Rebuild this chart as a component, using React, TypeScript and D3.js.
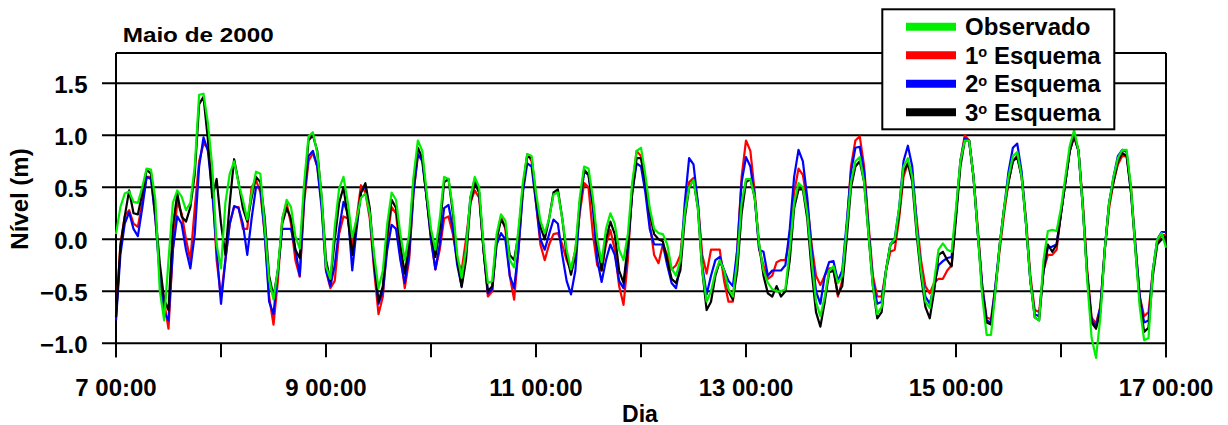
import React from 'react';
import * as d3 from 'd3';

// Hourly samples starting at day 7 00:00 (May 2000)
const START_DAY = 7;
const SAMPLES_PER_DAY = 24;
const MAJOR_DAYS = [7, 9, 11, 13, 15, 17];
const ALL_DAYS = [7, 8, 9, 10, 11, 12, 13, 14, 15, 16, 17];
const Y_TICKS = [-1.0, -0.5, 0.0, 0.5, 1.0, 1.5];
const SERIES_LABELS = ['Observado', '1', '2', '3'];

const OBSERVADO = [
  0.05, 0.31, 0.44, 0.46, 0.36, 0.35, 0.50, 0.68, 0.67, 0.38, -0.49, -0.78,
  -0.20, 0.35, 0.47, 0.41, 0.28, 0.35, 0.70, 1.39, 1.40, 1.12, 0.70, -0.05,
  -0.28, 0.35, 0.63, 0.75, 0.54, 0.38, 0.19, 0.44, 0.65, 0.63, 0.12, -0.39,
  -0.58, -0.29, 0.19, 0.38, 0.31, 0.03, -0.09, 0.54, 0.99, 1.03, 0.83, 0.41,
  -0.26, -0.38, 0.12, 0.49, 0.60, 0.35, 0.02, 0.20, 0.40, 0.44, 0.25, -0.15,
  -0.47, -0.30, 0.15, 0.45, 0.38, 0.05, -0.20, 0.05, 0.60, 0.95, 0.85, 0.45,
  0.10, -0.10, 0.20, 0.60, 0.58, 0.30, -0.15, -0.37, -0.10, 0.40, 0.60, 0.50,
  -0.05, -0.42, -0.40, 0.05, 0.24, 0.18, -0.20, -0.27, 0.10, 0.55, 0.82, 0.80,
  0.45, 0.18, 0.06, 0.20, 0.43, 0.45, 0.20, -0.10, -0.29, -0.10, 0.40, 0.70,
  0.68, 0.40, 0.00, -0.22, 0.10, 0.25, 0.15, -0.10, -0.20, 0.05, 0.55, 0.85,
  0.88, 0.62, 0.30, 0.10, 0.06, 0.05, -0.05, -0.28, -0.35, -0.20, 0.25, 0.50,
  0.57, 0.30, -0.30, -0.60, -0.50, -0.32, -0.20, -0.30, -0.48, -0.55, -0.20, 0.35,
  0.58, 0.58, 0.40, -0.05, -0.30, -0.42, -0.48, -0.50, -0.50, -0.48, -0.10, 0.35,
  0.54, 0.50, 0.25, -0.20, -0.60, -0.74, -0.55, -0.30, -0.26, -0.42, -0.35, 0.10,
  0.55, 0.75, 0.79, 0.55, 0.05, -0.45, -0.72, -0.65, -0.30, -0.05, 0.00, 0.30,
  0.70, 0.78, 0.60, 0.10, -0.30, -0.60, -0.66, -0.40, -0.10, -0.04, -0.10, -0.12,
  0.30, 0.75, 0.95, 0.95, 0.60, 0.05, -0.55, -0.92, -0.92, -0.50, -0.05, 0.30,
  0.60, 0.80, 0.84, 0.60, 0.15, -0.40, -0.75, -0.78, -0.20, 0.08, 0.09, 0.08,
  0.30, 0.60, 0.90, 1.05, 0.85, 0.30, -0.40, -0.95, -1.14, -0.75, -0.10, 0.35,
  0.60, 0.78, 0.86, 0.86, 0.50, -0.10, -0.65, -0.97, -0.95, -0.30, 0.00, 0.06,
  -0.08,
];

const ESQUEMA_1 = [
  -0.75, -0.05, 0.22, 0.28, 0.15, 0.12, 0.35, 0.60, 0.60, 0.20, -0.30, -0.60,
  -0.86, -0.10, 0.36, 0.25, 0.00, -0.20, 0.30, 0.75, 0.92, 0.88, 0.55, -0.20,
  -0.55, -0.20, 0.15, 0.31, 0.31, 0.10, 0.10, 0.50, 0.57, 0.45, 0.05, -0.55,
  -0.82, -0.40, 0.20, 0.35, 0.15, -0.20, -0.36, 0.35, 0.75, 0.83, 0.70, 0.35,
  -0.30, -0.47, -0.40, 0.05, 0.22, 0.20, -0.07, 0.20, 0.52, 0.45, 0.20, -0.30,
  -0.72, -0.55, 0.00, 0.31, 0.25, -0.15, -0.47, -0.20, 0.45, 0.80, 0.80, 0.40,
  0.00, -0.29, -0.10, 0.20, 0.22, 0.05, -0.20, -0.30, 0.00, 0.35, 0.47, 0.40,
  -0.10, -0.55, -0.50, 0.00, 0.22, 0.10, -0.35, -0.58, -0.10, 0.50, 0.82, 0.75,
  0.35, -0.05, -0.20, -0.05, 0.05, 0.06, -0.05, -0.20, -0.30, -0.10, 0.25, 0.54,
  0.50, 0.05, -0.25, -0.30, -0.05, 0.09, -0.10, -0.45, -0.63, -0.20, 0.50, 0.85,
  0.80, 0.50, 0.15, -0.15, -0.23, -0.05, -0.15, -0.29, -0.25, -0.15, 0.25, 0.55,
  0.59, 0.35, -0.15, -0.33, -0.10, -0.10, -0.10, -0.40, -0.60, -0.60, -0.10, 0.60,
  0.95, 0.85, 0.45, -0.10, -0.25, -0.38, -0.35, -0.22, -0.20, -0.20, 0.00, 0.45,
  0.68, 0.62, 0.35, -0.05, -0.35, -0.44, -0.35, -0.28, -0.28, -0.55, -0.40, 0.10,
  0.70, 0.95, 0.99, 0.70, 0.15, -0.35, -0.55, -0.55, -0.30, -0.12, -0.10, 0.20,
  0.60, 0.73, 0.60, 0.20, -0.20, -0.45, -0.52, -0.42, -0.38, -0.38, -0.30, -0.25,
  0.25, 0.75, 1.00, 0.95, 0.60, 0.10, -0.45, -0.75, -0.77, -0.45, -0.10, 0.25,
  0.55, 0.75, 0.81, 0.60, 0.20, -0.35, -0.68, -0.70, -0.30, -0.15, -0.15, -0.10,
  0.25, 0.55, 0.85, 0.98, 0.85, 0.35, -0.30, -0.75, -0.81, -0.65, -0.10, 0.30,
  0.55, 0.72, 0.80, 0.80, 0.50, -0.05, -0.55, -0.74, -0.70, -0.30, -0.03, 0.04,
  0.04,
];

const ESQUEMA_2 = [
  -0.78, -0.15, 0.15, 0.26, 0.10, 0.03, 0.30, 0.60, 0.58, 0.20, -0.35, -0.70,
  -0.78, -0.10, 0.22, 0.15, -0.10, -0.28, 0.05, 0.70, 0.98, 0.85, 0.45, -0.10,
  -0.62, -0.20, 0.15, 0.32, 0.30, 0.15, -0.15, 0.20, 0.50, 0.50, 0.05, -0.60,
  -0.72, -0.30, 0.10, 0.10, 0.10, -0.10, -0.35, 0.40, 0.80, 0.85, 0.70, 0.30,
  -0.30, -0.45, -0.25, 0.10, 0.36, 0.25, -0.30, 0.10, 0.45, 0.52, 0.25, -0.25,
  -0.62, -0.50, -0.10, 0.14, 0.10, -0.20, -0.42, -0.15, 0.45, 0.82, 0.75, 0.40,
  0.00, -0.29, -0.05, 0.30, 0.33, 0.10, -0.25, -0.45, -0.10, 0.40, 0.58, 0.45,
  -0.10, -0.52, -0.48, -0.05, 0.06, 0.00, -0.35, -0.47, -0.10, 0.45, 0.73, 0.70,
  0.35, 0.00, -0.10, 0.05, 0.19, 0.15, -0.15, -0.40, -0.53, -0.30, 0.30, 0.65,
  0.62, 0.30, -0.20, -0.41, -0.20, -0.05, -0.15, -0.40, -0.47, -0.10, 0.45, 0.73,
  0.70, 0.45, 0.10, -0.05, -0.05, -0.05, -0.25, -0.42, -0.47, -0.25, 0.35, 0.78,
  0.72, 0.35, -0.25, -0.53, -0.35, -0.20, -0.17, -0.30, -0.40, -0.45, -0.10, 0.55,
  0.79, 0.70, 0.40, -0.10, -0.12, -0.35, -0.30, -0.30, -0.30, -0.25, 0.10, 0.60,
  0.86, 0.75, 0.40, -0.10, -0.50, -0.62, -0.35, -0.22, -0.21, -0.40, -0.30, 0.15,
  0.65, 0.88, 0.89, 0.65, 0.10, -0.40, -0.62, -0.60, -0.30, -0.05, 0.01, 0.30,
  0.75, 0.90, 0.70, 0.15, -0.30, -0.55, -0.62, -0.45, -0.25, -0.21, -0.18, -0.17,
  0.25, 0.75, 0.97, 0.95, 0.60, 0.05, -0.45, -0.78, -0.80, -0.45, -0.05, 0.30,
  0.65, 0.88, 0.92, 0.65, 0.15, -0.40, -0.72, -0.74, -0.30, -0.08, -0.07, -0.05,
  0.25, 0.55, 0.85, 1.00, 0.85, 0.30, -0.35, -0.78, -0.84, -0.65, -0.10, 0.35,
  0.60, 0.80, 0.86, 0.84, 0.45, -0.05, -0.55, -0.80, -0.78, -0.30, 0.00, 0.07,
  0.07,
];

const ESQUEMA_3 = [
  -0.75, -0.07, 0.22, 0.47, 0.25, 0.24, 0.44, 0.67, 0.63, 0.25, -0.23, -0.58,
  -0.68, 0.12, 0.44, 0.22, 0.17, 0.31, 0.63, 1.30, 1.37, 0.96, 0.40, 0.58,
  0.15, -0.15, 0.35, 0.77, 0.55, 0.30, 0.17, 0.40, 0.60, 0.55, 0.20, -0.35,
  -0.55, -0.30, 0.15, 0.30, 0.20, -0.10, -0.18, 0.45, 0.95, 1.00, 0.85, 0.40,
  -0.20, -0.40, 0.00, 0.35, 0.50, 0.20, -0.15, 0.15, 0.45, 0.54, 0.30, -0.20,
  -0.60, -0.45, 0.05, 0.38, 0.30, -0.05, -0.33, -0.05, 0.55, 0.88, 0.78, 0.40,
  0.05, -0.17, 0.10, 0.55, 0.58, 0.25, -0.20, -0.46, -0.20, 0.35, 0.54, 0.45,
  -0.10, -0.50, -0.45, 0.00, 0.19, 0.12, -0.15, -0.20, 0.05, 0.50, 0.80, 0.78,
  0.40, 0.12, 0.00, 0.20, 0.45, 0.48, 0.20, -0.15, -0.34, -0.15, 0.35, 0.67,
  0.62, 0.35, -0.05, -0.30, 0.00, 0.17, 0.05, -0.30, -0.42, -0.05, 0.45, 0.78,
  0.78, 0.55, 0.25, 0.05, 0.00, -0.02, -0.20, -0.38, -0.42, -0.30, 0.20, 0.50,
  0.57, 0.30, -0.30, -0.68, -0.60, -0.35, -0.21, -0.30, -0.50, -0.58, -0.30, 0.25,
  0.55, 0.58, 0.40, -0.05, -0.35, -0.52, -0.55, -0.45, -0.55, -0.50, -0.20, 0.30,
  0.48, 0.48, 0.20, -0.30, -0.70, -0.84, -0.60, -0.32, -0.30, -0.53, -0.45, 0.00,
  0.50, 0.70, 0.75, 0.55, 0.05, -0.45, -0.76, -0.70, -0.30, -0.05, -0.02, 0.25,
  0.65, 0.73, 0.55, 0.05, -0.35, -0.65, -0.76, -0.50, -0.15, -0.12, -0.20, -0.26,
  0.20, 0.70, 0.95, 0.95, 0.60, 0.05, -0.50, -0.80, -0.82, -0.50, -0.05, 0.30,
  0.55, 0.75, 0.79, 0.60, 0.15, -0.40, -0.75, -0.78, -0.30, -0.05, -0.12, -0.05,
  0.25, 0.55, 0.85, 1.00, 0.85, 0.30, -0.35, -0.80, -0.86, -0.70, -0.10, 0.35,
  0.55, 0.75, 0.83, 0.80, 0.45, -0.10, -0.60, -0.89, -0.85, -0.35, -0.05, 0.00,
  0.03,
];

const FONT = '"Liberation Sans", Arial, Helvetica, sans-serif';

export default function App() {
  const W = 1228;
  const H = 425;
  const left = 116;
  const right = 1166;
  const top = 53;
  const x = d3.scaleLinear().domain([7, 17]).range([left, right]);
  const y = d3.scaleLinear().domain([-1, 1.8]).range([343.3, 52.1]);
  const bottom = y(-1);

  const line = d3
    .line<number>()
    .x((_, i) => x(START_DAY + i / SAMPLES_PER_DAY))
    .y((d) => y(d));

  const series = [
    { data: ESQUEMA_1, color: '#ff0000' },
    { data: ESQUEMA_2, color: '#0000ff' },
    { data: ESQUEMA_3, color: '#000000' },
    { data: OBSERVADO, color: '#00ee00' },
  ];

  const legend = [
    { color: '#00ee00', label: SERIES_LABELS[0], sup: false },
    { color: '#ff0000', label: SERIES_LABELS[1], sup: true },
    { color: '#0000ff', label: SERIES_LABELS[2], sup: true },
    { color: '#000000', label: SERIES_LABELS[3], sup: true },
  ];

  const tickLen = 14;
  const fmt = d3.format('.1f');

  return (
    <svg
      width={W}
      height={H}
      style={{ position: 'absolute', left: 0, top: 0, background: '#fff' }}
      fontFamily={FONT}
      fontWeight="bold"
    >
      <rect x={0} y={0} width={W} height={H} fill="#fff" />
      {/* gridlines with y ticks */}
      {Y_TICKS.map((t) => (
        <line key={'g' + t} x1={left - tickLen} x2={right} y1={y(t)} y2={y(t)} stroke="#000" strokeWidth={2} />
      ))}
      {/* frame */}
      <line x1={left} x2={right} y1={top} y2={top} stroke="#000" strokeWidth={2} />
      <line x1={right} x2={right} y1={top} y2={bottom + tickLen} stroke="#000" strokeWidth={2} />
      <line x1={left} x2={left} y1={top} y2={bottom + tickLen} stroke="#000" strokeWidth={2} />
      {/* x ticks */}
      {ALL_DAYS.map((d) => (
        <line key={'t' + d} x1={x(d)} x2={x(d)} y1={bottom} y2={bottom + tickLen} stroke="#000" strokeWidth={2} />
      ))}
      {/* y tick labels */}
      {Y_TICKS.map((t) => (
        <text key={'yl' + t} x={87.5} y={y(t) + 9.2} textAnchor="end" fontSize={24}>
          {fmt(t)}
        </text>
      ))}
      {/* x tick labels */}
      {MAJOR_DAYS.map((d) => (
        <text key={'xl' + d} x={x(d)} y={396} textAnchor="middle" fontSize={24}>
          {`${d} 00:00`}
        </text>
      ))}
      {/* series */}
      {series.map((s, i) => (
        <path
          key={'s' + i}
          d={line(s.data) || ''}
          fill="none"
          stroke={s.color}
          strokeWidth={2.2}
          strokeLinejoin="round"
        />
      ))}
      {/* titles */}
      <text x={122.7} y={42.3} fontSize={21} textLength={151} lengthAdjust="spacingAndGlyphs">
        Maio de 2000
      </text>
      <text x={640} y={421.5} textAnchor="middle" fontSize={23}>
        Dia
      </text>
      <text transform="translate(28.3,199) rotate(-90)" textAnchor="middle" fontSize={24}>
        Nível (m)
      </text>
      {/* legend */}
      <rect x={882.3} y={9.3} width={232} height={120} fill="#fff" stroke="#000" strokeWidth={2} />
      {legend.map((l, i) => {
        const cy = 26.7 + i * 28.5;
        return (
          <g key={'l' + i}>
            <line x1={906} x2={956} y1={cy} y2={cy} stroke={l.color} strokeWidth={8} />
            {l.sup ? (
              <text x={965} y={cy + 8.3} fontSize={24}>
                {l.label}
                <tspan fontSize={14.5} dy={-6.5}>o</tspan>
                <tspan fontSize={24} dy={6.5}>{' Esquema'}</tspan>
              </text>
            ) : (
              <text x={965} y={cy + 8.3} fontSize={24}>
                {l.label}
              </text>
            )}
          </g>
        );
      })}
    </svg>
  );
}
